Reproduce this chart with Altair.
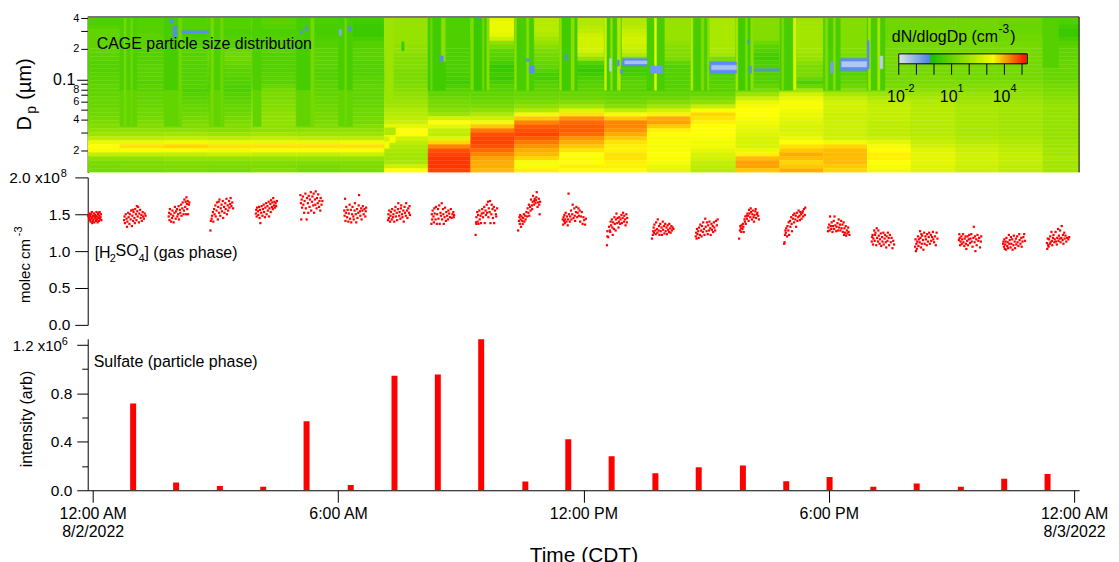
import altair as alt
import numpy as np
import pandas as pd

FONT = "Liberation Sans"

# ---- size-distribution panel: one column per scan, log10(dN/dlogDp) x 10, top row first
SCAN_EDGES = [0, 0.78, 1.85, 2.91, 3.97, 5.05, 6.11, 7.18, 8.24, 9.27, 10.33, 11.42, 12.51,
              13.54, 14.60, 15.69, 16.75, 17.81, 18.87, 19.93, 21.0, 22.06, 23.12, 24]
SCAN_LEVELS = [
    [7,7,8,10,10,10,10,10,10,9,9,8,8,8,9,9,9,10,10,10,11,11,11,12,12,13,14,15,17,19,24,31,34,33,25,17,14,13,13],
    [8,8,8,8,9,9,9,9,8,8,8,8,9,9,9,9,8,9,9,10,10,11,11,12,12,13,14,15,17,19,24,31,36,33,25,17,14,14,13],
    [8,8,8,7,6,7,8,9,9,8,9,8,8,8,8,8,8,8,7,8,9,10,11,11,12,13,14,15,17,20,25,32,37,33,25,18,15,14,14],
    [8,8,8,7,7,8,8,9,11,12,12,11,10,9,9,8,8,7,7,8,9,10,11,11,12,13,14,15,16,19,24,31,36,32,26,18,15,14,13],
    [9,9,8,7,7,8,8,9,9,8,8,8,8,8,9,9,9,11,13,14,14,15,15,16,17,17,17,17,17,20,25,31,36,33,25,18,15,14,15],
    [7,7,6,6,6,7,8,8,9,9,9,9,9,8,8,8,9,9,10,10,11,11,12,12,13,13,14,15,17,19,24,31,36,33,25,18,15,13,13],
    [6,5,4,4,4,6,8,8,9,9,9,8,8,8,8,9,9,10,10,10,10,11,11,12,12,13,13,15,17,19,24,32,36,33,26,18,15,14,14],
    [18,18,18,18,18,18,18,17,17,16,15,15,15,14,14,14,14,15,16,17,18,19,20,22,23,24,26,30,34,34,27,24,22,21,20,20,21,26,34],
    [7,7,7,7,7,7,7,7,7,7,7,7,7,7,6,6,5,7,9,10,12,13,14,16,19,27,34,30,25,24,29,37,43,47,48,49,49,49,48],
    [30,31,31,31,30,26,17,14,10,9,8,6,3,4,5,4,6,8,9,10,11,12,14,17,22,26,32,38,44,47,48,48,47,45,43,41,40,40,39],
    [23,23,23,23,22,20,18,16,14,13,12,11,10,8,6,6,8,9,10,11,12,14,17,22,32,38,43,46,47,48,46,44,42,40,39,37,33,33,35],
    [22,22,23,24,26,27,27,27,27,24,18,8,5,3,5,7,8,9,10,11,12,15,20,29,36,42,45,46,46,45,42,40,38,36,34,33,34,35,34],
    [22,22,23,25,26,27,27,26,25,22,14,8,5,5,6,8,9,9,9,10,11,13,16,24,33,38,43,43,42,40,38,36,35,35,36,36,35,35,34],
    [18,18,18,18,18,18,17,16,15,15,14,10,8,8,8,8,8,8,9,10,12,15,20,27,35,40,41,38,35,34,33,33,33,33,34,33,33,31,30],
    [21,21,21,21,21,21,21,21,21,20,14,10,6,6,7,8,8,9,9,11,14,17,25,33,37,36,35,34,34,34,33,32,32,30,28,27,25,24,23],
    [15,15,15,15,15,15,12,9,8,6,5,7,7,6,8,8,8,10,14,19,26,31,33,34,34,33,32,31,30,29,28,28,28,31,35,39,41,41,38],
    [19,20,20,20,20,20,20,20,20,19,18,16,14,14,14,11,7,11,20,27,31,33,33,32,31,30,29,28,28,29,31,34,36,38,40,39,37,38,40],
    [15,15,15,15,15,15,15,15,15,14,12,10,8,8,9,10,10,12,16,21,25,27,27,27,26,26,26,26,26,26,27,32,37,39,39,39,39,38,37],
    [12,12,12,12,12,12,13,13,13,13,13,13,13,13,13,13,13,14,16,19,22,24,25,25,25,25,24,24,24,24,26,30,33,34,35,35,34,33,32],
    [12,12,12,13,13,13,13,13,13,13,13,13,13,13,13,14,14,15,17,19,21,22,23,23,23,23,23,23,23,23,24,25,27,29,30,30,30,29,29],
    [12,12,12,12,13,13,13,13,13,13,13,13,13,13,13,13,14,15,16,18,19,20,21,21,21,21,21,21,21,21,22,23,25,26,27,27,27,26,26],
    [12,11,11,11,12,12,13,13,13,13,13,13,13,13,13,13,14,15,16,17,18,19,20,20,20,20,20,20,20,20,21,22,23,24,25,25,25,24,24],
    [8,7,5,4,4,6,8,9,10,10,10,11,11,11,11,11,12,13,14,15,16,17,18,18,18,18,18,18,18,18,18,19,19,20,20,21,20,20,20],
]
DP_TOP, DP_BOTTOM = 0.41, 0.0122

# narrow stripes at the start of each scan: start h, end h, Dp top, Dp bottom, level x 10
SCAN_STRIPES = [
    (0.78,1.19,.41,.078,7),(0.78,1.19,.078,.0345,10),(0.88,0.93,.41,.0345,13),(1.04,1.09,.41,.0345,12),
    (1.85,2.25,.41,.078,6),(1.85,2.25,.078,.0345,10),(2.20,2.28,.41,.0345,12),
    (2.95,3.30,.41,.078,7),(2.95,3.30,.078,.0345,10),(2.98,3.05,.41,.0345,13),(3.22,3.28,.41,.0345,12),
    (4.00,4.20,.41,.078,7),(4.00,4.20,.078,.0345,10),
    (5.05,5.45,.41,.078,6),(5.05,5.45,.078,.0345,10),(5.40,5.48,.41,.0345,13),
    (6.07,6.41,.41,.078,6),(6.07,6.41,.078,.0345,10),(6.22,6.27,.41,.0345,12),
    (7.20,7.40,.41,.06,19),(7.60,7.66,.234,.191,4),
    (7.18,7.45,.0335,.0285,22),(7.18,7.30,.0246,.021,33),(7.30,7.45,.0275,.024,33),
    (8.24,8.66,.41,.078,5),(8.30,8.34,.41,.078,12),(8.56,8.66,.41,.15,16),
    (9.27,9.70,.41,.078,4),(9.27,9.34,.41,.078,14),(9.55,9.60,.41,.078,12),(9.66,9.72,.41,.078,16),
    (10.33,10.80,.41,.078,6),(10.33,10.38,.41,.078,16),(10.62,10.68,.41,.078,15),
    (11.42,11.85,.41,.078,5),(11.42,11.47,.41,.078,17),(11.70,11.78,.41,.078,16),
    (12.51,12.92,.41,.078,5),(12.51,12.56,.41,.078,26),(12.66,12.70,.41,.078,18),(12.82,12.90,.41,.078,22),
    (13.54,13.96,.41,.078,6),(13.72,13.77,.41,.078,30),
    (14.60,15.04,.41,.078,6),(14.60,14.65,.41,.078,22),(14.85,14.92,.41,.078,14),(15.00,15.04,.41,.078,16),
    (15.69,16.10,.41,.078,5),(15.69,15.74,.41,.078,20),(15.92,15.97,.41,.078,14),(16.05,16.12,.41,.078,16),
    (16.75,17.15,.41,.078,6),(16.80,16.85,.41,.078,14),(17.08,17.15,.41,.078,28),
    (17.81,18.22,.41,.078,6),(17.85,17.92,.41,.078,14),(18.05,18.10,.41,.078,16),
    (18.87,19.30,.41,.078,6),(18.90,18.95,.41,.078,20),(19.12,19.18,.41,.078,20),
    (23.12,23.50,.41,.13,8),
]
# low-count cells: start h, end h, Dp top, Dp bottom, level x 10
LOW_CELLS = [
    (1.99,2.07,.39,.355,-4),(2.07,2.16,.335,.26,-4),(2.28,2.93,.30,.285,-4),
    (5.15,5.20,.30,.28,-4),(5.27,5.32,.33,.30,-4),(6.09,6.14,.31,.27,-9),(6.31,6.38,.33,.30,-4),
    (9.46,9.51,.41,.39,-4),(8.53,8.61,.17,.15,-4),(10.62,10.69,.16,.15,-4),(10.69,10.81,.135,.115,-4),
    (11.56,11.61,.175,.155,-4),(12.63,12.68,.16,.12,-15),(12.82,12.87,.155,.135,-4),(12.89,12.95,.125,.115,-4),
    (12.95,13.54,.16,.135,-4),(13.00,13.54,.152,.142,-13),(13.62,13.91,.135,.115,-6),
    (15.06,15.71,.148,.115,-4),(15.10,15.71,.138,.124,-13),(15.97,16.02,.24,.225,-4),(16.02,16.07,.135,.115,-4),
    (16.13,16.75,.127,.122,-4),(17.98,18.05,.148,.115,-7),(18.22,18.87,.16,.122,-4),(18.25,18.87,.15,.132,-14),
    (18.87,18.92,.24,.127,-4),(19.18,19.25,.17,.127,-15),
]
COLOR_STOPS = [-2, -0.2, -0.19, 3.4, 5.3]
COLOR_RANGE = ["#e6e8f2", "#4a80f5", "#14c000", "#ffff00", "#ff0000"]
BAR_TICKS = [-2, -1, 0, 1, 2, 3, 4, 5]
BAR_LABELS = [-2, 1, 4]

# ---- H2SO4 panel: centre hour of each cluster, then (offset h x 100, value x 1e6)
H2SO4_CENTRES = [0.17,1.14,2.21,3.27,4.33,5.42,6.48,7.54,8.60,9.66,10.72,11.78,12.84,13.93,14.99,16.05,17.14,18.2,19.26,20.32,21.38,22.44,23.5]
H2SO4_POINTS = [
 [(-16,148),(-14,145),(-13,151),(-12,142),(-11,147),(-10,140),(-9,150),(-8,144),(-7,153),(-6,146),(-5,141),(-4,148),(-3,143),(-2,151),(-1,139),(0,146),(1,149),(2,144),(3,141),(4,153),(5,147),(6,143),(7,139),(8,150),(9,145),(10,141),(11,148),(12,153),(13,144),(14,146),(15,150),(16,142),(-6,138),(9,152),(-12,149),(3,147)],
 [(-26,142),(-25,147),(-24,138),(-22,150),(-20,144),(-19,133),(-18,140),(-16,152),(-15,146),(-13,137),(-12,150),(-10,143),(-9,155),(-7,134),(-6,148),(-4,141),(-3,153),(-1,145),(0,138),(1,157),(3,150),(4,142),(6,154),(7,147),(8,160),(10,139),(11,151),(13,156),(14,145),(16,149),(17,141),(19,153),(20,147),(22,144),(24,151),(26,148),(5,161),(-5,156)],
 [(-25,147),(-24,152),(-23,142),(-22,157),(-20,150),(-19,140),(-17,145),(-16,155),(-14,148),(-13,139),(-11,152),(-10,160),(-8,144),(-7,154),(-5,157),(-4,147),(-2,150),(-1,161),(0,143),(2,156),(3,152),(5,163),(6,148),(8,158),(9,166),(11,150),(12,155),(13,170),(15,160),(16,167),(17,150),(18,173),(19,164),(20,157),(21,168),(22,150),(24,163),(25,166)],
 [(-30,128),(-29,141),(-27,144),(-26,148),(-24,153),(-23,140),(-21,157),(-20,150),(-18,162),(-17,147),(-15,155),(-14,166),(-12,143),(-11,160),(-9,152),(-8,170),(-6,148),(-5,158),(-3,163),(-2,154),(0,168),(1,145),(3,160),(4,152),(6,165),(7,157),(9,171),(10,150),(12,162),(13,155),(15,168),(16,159),(18,164),(19,172),(21,161),(23,166),(25,158),(-10,167)],
 [(-26,151),(-25,156),(-24,147),(-23,159),(-21,154),(-20,149),(-18,160),(-17,145),(-16,156),(-15,138),(-13,152),(-12,161),(-10,148),(-9,157),(-7,163),(-6,153),(-4,146),(-3,159),(-1,165),(0,150),(2,161),(3,155),(5,167),(6,147),(7,158),(9,164),(10,153),(11,169),(13,160),(14,166),(15,157),(16,172),(18,162),(19,167),(20,159),(22,165),(23,161),(25,168)],
 [(-27,176),(-26,165),(-25,143),(-24,170),(-23,159),(-21,174),(-20,163),(-18,152),(-17,168),(-15,178),(-14,158),(-12,143),(-11,172),(-9,165),(-8,152),(-7,175),(-5,160),(-4,170),(-2,180),(-1,155),(1,167),(2,174),(4,162),(5,178),(6,152),(8,170),(9,163),(10,181),(12,158),(13,172),(15,165),(16,177),(18,160),(19,168),(21,155),(22,172),(24,163),(26,168)],
 [(-27,155),(-26,148),(-25,171),(-24,141),(-23,152),(-22,160),(-20,146),(-19,156),(-17,140),(-16,151),(-14,163),(-13,144),(-11,156),(-10,139),(-8,150),(-7,160),(-5,147),(-4,143),(-2,155),(-1,165),(1,150),(2,139),(4,157),(5,145),(7,152),(8,162),(9,176),(11,154),(12,148),(14,158),(15,143),(17,155),(18,161),(20,150),(22,157),(24,147),(25,154),(26,159)],
 [(-27,142),(-26,150),(-25,145),(-24,155),(-22,140),(-21,148),(-20,153),(-18,143),(-17,157),(-15,146),(-14,150),(-12,140),(-11,155),(-9,160),(-8,147),(-6,152),(-5,142),(-3,157),(-2,165),(0,148),(1,153),(3,144),(4,158),(5,162),(7,150),(8,146),(10,155),(11,140),(13,160),(14,152),(16,148),(17,165),(19,155),(20,145),(22,158),(24,152),(25,161),(26,149)],
 [(-28,137),(-27,150),(-26,143),(-25,155),(-23,147),(-22,139),(-21,158),(-20,151),(-18,143),(-17,160),(-15,137),(-14,150),(-12,157),(-11,144),(-9,162),(-8,137),(-6,152),(-5,148),(-3,165),(-2,143),(0,157),(1,150),(2,137),(4,146),(5,159),(7,141),(8,153),(10,148),(12,143),(13,155),(15,151),(17,146),(19,157),(21,145),(23,150),(25,153),(26,146),(27,149)],
 [(-27,122),(-26,139),(-25,137),(-25,146),(-23,153),(-22,140),(-21,149),(-20,137),(-18,155),(-17,143),(-15,148),(-14,138),(-12,151),(-11,157),(-9,146),(-8,152),(-6,160),(-5,138),(-3,155),(-2,149),(0,163),(1,152),(3,167),(4,146),(5,158),(7,153),(8,168),(9,138),(11,150),(12,163),(14,157),(15,145),(17,160),(18,138),(20,155),(22,150),(23,147),(25,158)],
 [(-30,128),(-28,141),(-27,146),(-26,137),(-25,149),(-24,143),(-23,133),(-22,147),(-20,141),(-19,137),(-18,145),(-16,150),(-15,140),(-13,148),(-12,143),(-10,153),(-8,147),(-7,158),(-5,152),(-4,163),(-3,148),(-1,160),(0,155),(1,170),(3,162),(4,157),(5,167),(6,175),(8,163),(9,168),(10,171),(12,165),(13,169),(14,173),(15,180),(17,160),(18,166),(20,171),(21,163),(22,150),(23,167)],
 [(-28,143),(-27,136),(-26,146),(-25,141),(-24,149),(-23,138),(-22,143),(-21,152),(-19,140),(-18,147),(-16,135),(-15,143),(-14,178),(-13,150),(-11,140),(-10,147),(-8,155),(-7,143),(-5,150),(-4,163),(-2,145),(0,158),(1,148),(2,141),(4,153),(5,160),(7,146),(8,152),(10,158),(11,148),(13,155),(14,140),(16,147),(18,153),(20,137),(22,146),(24,142),(26,136),(28,144)],
 [(-27,108),(-26,120),(-26,127),(-24,119),(-22,133),(-20,128),(-19,126),(-18,140),(-17,135),(-15,143),(-14,132),(-13,122),(-12,139),(-10,130),(-9,146),(-8,137),(-6,128),(-5,143),(-4,151),(-2,138),(-1,145),(1,132),(2,140),(3,146),(5,137),(6,143),(8,149),(9,138),(11,145),(12,152),(14,140),(15,148),(17,143),(18,135),(20,150),(21,139),(22,145)],
 [(-27,117),(-25,122),(-24,127),(-23,132),(-22,125),(-21,136),(-19,128),(-18,123),(-17,139),(-15,130),(-14,125),(-13,143),(-11,128),(-10,134),(-9,122),(-7,137),(-6,127),(-4,132),(-3,122),(-1,140),(0,129),(2,134),(3,124),(5,137),(6,127),(8,132),(9,123),(11,135),(12,129),(14,126),(15,137),(17,131),(18,125),(20,134),(21,128),(23,132),(25,130)],
 [(-27,120),(-26,125),(-25,117),(-24,130),(-23,123),(-21,127),(-20,118),(-19,132),(-17,122),(-16,136),(-14,128),(-13,120),(-12,134),(-10,126),(-9,139),(-7,130),(-6,122),(-4,144),(-3,133),(-1,127),(0,139),(2,123),(3,135),(5,128),(6,140),(8,131),(9,122),(11,137),(12,129),(14,134),(15,126),(17,139),(18,132),(20,128),(22,141),(24,135),(26,143)],
 [(-28,117),(-26,128),(-25,134),(-24,131),(-23,126),(-22,135),(-20,130),(-19,137),(-18,133),(-17,126),(-15,143),(-14,140),(-13,147),(-12,137),(-10,148),(-9,144),(-8,151),(-6,148),(-5,141),(-4,156),(-3,151),(-1,146),(0,158),(1,153),(3,143),(4,150),(5,155),(7,146),(8,140),(9,149),(11,154),(12,157),(13,145),(15,150),(16,152),(18,148),(20,143)],
 [(-28,110),(-27,112),(-26,122),(-25,128),(-24,125),(-23,131),(-21,120),(-20,134),(-18,128),(-17,139),(-16,122),(-14,141),(-13,133),(-11,146),(-10,137),(-9,127),(-7,144),(-6,149),(-4,139),(-3,151),(-1,143),(0,148),(1,133),(3,152),(4,141),(6,146),(7,155),(9,148),(10,142),(11,153),(13,150),(14,144),(16,152),(17,154),(18,147),(20,157),(22,149),(23,159)],
 [(-28,127),(-27,132),(-25,136),(-24,128),(-23,147),(-21,134),(-20,130),(-19,139),(-17,126),(-16,134),(-14,141),(-13,130),(-12,147),(-10,135),(-8,127),(-7,133),(-5,138),(-4,128),(-2,143),(-1,132),(1,136),(2,128),(4,141),(5,131),(7,136),(8,126),(10,139),(11,122),(12,131),(13,125),(15,134),(16,121),(18,128),(19,124),(21,132),(22,126),(24,122)],
 [(-28,113),(-27,119),(-26,122),(-25,109),(-24,117),(-22,128),(-21,114),(-20,122),(-19,125),(-17,108),(-16,131),(-15,118),(-13,113),(-12,128),(-11,121),(-9,110),(-8,116),(-6,124),(-5,107),(-3,119),(-2,113),(0,125),(1,109),(3,117),(4,122),(6,112),(7,105),(8,120),(10,114),(11,125),(13,118),(14,108),(16,122),(18,112),(20,118),(22,104),(24,114),(26,109)],
 [(-29,106),(-28,116),(-27,100),(-26,110),(-25,103),(-24,113),(-22,120),(-21,107),(-20,116),(-18,112),(-17,127),(-16,118),(-15,105),(-14,123),(-13,110),(-12,121),(-10,115),(-9,102),(-7,125),(-6,110),(-4,120),(-3,116),(-1,108),(0,123),(2,113),(4,119),(5,125),(7,110),(9,122),(10,114),(12,119),(14,126),(15,116),(17,112),(19,120),(21,108),(23,125),(25,117)],
 [(-29,115),(-28,123),(-27,118),(-26,108),(-25,113),(-23,120),(-22,110),(-21,116),(-19,123),(-18,112),(-16,107),(-15,117),(-13,120),(-12,110),(-11,103),(-9,114),(-8,120),(-7,108),(-5,116),(-4,122),(-2,111),(-1,117),(1,123),(2,113),(4,106),(6,118),(7,133),(9,112),(10,120),(11,100),(13,116),(14,108),(16,122),(18,114),(20,118),(22,105),(24,113),(25,120)],
 [(-28,110),(-27,113),(-26,106),(-25,116),(-24,103),(-23,109),(-22,113),(-21,102),(-20,118),(-18,107),(-17,112),(-16,104),(-14,122),(-13,110),(-12,115),(-10,105),(-9,119),(-8,110),(-6,116),(-5,102),(-3,108),(-2,121),(0,113),(1,104),(3,117),(4,109),(6,120),(7,112),(9,107),(11,123),(12,115),(14,110),(16,118),(17,106),(19,113),(21,119),(23,123),(25,114)],
 [(-28,111),(-27,103),(-26,117),(-25,108),(-24,106),(-23,116),(-21,110),(-20,120),(-19,112),(-17,126),(-16,114),(-15,108),(-13,118),(-12,122),(-10,112),(-9,116),(-7,126),(-6,113),(-4,109),(-3,118),(-1,130),(0,114),(1,121),(3,117),(4,128),(5,112),(7,118),(8,134),(10,115),(11,122),(12,110),(14,125),(15,117),(17,121),(19,113),(21,118),(24,116),(26,119)],
]

# ---- sulfate panel
SULFATE_TIME = [0.989,2.04,3.11,4.17,5.23,6.31,7.38,8.44,9.50,10.58,11.63,12.69,13.76,14.82,15.90,16.96,18.02,19.09,20.15,21.23,22.29,23.35]
SULFATE_VALUE = [0.715,0.065,0.035,0.028,0.57,0.043,0.945,0.955,1.245,0.072,0.42,0.28,0.14,0.19,0.205,0.075,0.11,0.03,0.055,0.03,0.095,0.135]
SULFATE_MAX = 1.249

TIME_TICKS = [0, 6, 12, 18, 24]
DP_TICKS = [0.4, 0.3, 0.2, 0.1, 0.09, 0.08, 0.07, 0.06, 0.05, 0.04, 0.03, 0.02]

W, H1, H2, H3 = 995, 156, 148, 152
GAP1, GAP2 = 5, 14
LEFT = 86

# ---- frames
edges = np.geomspace(DP_TOP, DP_BOTTOM, len(SCAN_LEVELS[0]) + 1)
heat_df = pd.DataFrame(
    [{"t0": SCAN_EDGES[c], "t1": SCAN_EDGES[c + 1], "d0": edges[r], "d1": edges[r + 1], "lv": v / 10}
     for c, col in enumerate(SCAN_LEVELS) for r, v in enumerate(col)])
stripe_df = pd.DataFrame(SCAN_STRIPES, columns=["t0", "t1", "d0", "d1", "lv"]).assign(lv=lambda d: d.lv / 10)
low_df = pd.DataFrame(LOW_CELLS, columns=["t0", "t1", "d0", "d1", "lv"]).assign(lv=lambda d: d.lv / 10)
h2so4_df = pd.DataFrame(
    [{"t": c + dt / 100, "v": v / 100} for c, pts in zip(H2SO4_CENTRES, H2SO4_POINTS) for dt, v in pts])
sulfate_df = pd.DataFrame({"t": SULFATE_TIME, "v": SULFATE_VALUE})

x_scale = alt.Scale(domain=[0, 24], nice=False, zero=False)
dp_scale = alt.Scale(type="log", domain=[DP_BOTTOM, DP_TOP], nice=False)
color_scale = alt.Scale(domain=COLOR_STOPS, range=COLOR_RANGE, clamp=True, interpolate="rgb")
bar_x = alt.Scale(domain=[-2, 5.3], range=[900 - LEFT, 1029 - LEFT], nice=False, zero=False)


def label(text, px, py, size=16, align="left", angle=0, baseline="alphabetic", panel_top=16):
    """Text placed in page pixel terms, relative to its panel."""
    return alt.Chart(pd.DataFrame({"s": [text]})).mark_text(
        font=FONT, fontSize=size, align=align, baseline=baseline, angle=angle, color="#000000"
    ).encode(x=alt.value(px - LEFT), y=alt.value(py - panel_top), text="s:N")


def cells(df, axis_y=None):
    y = alt.Y("d0:Q", scale=dp_scale, title=None, axis=axis_y)
    return alt.Chart(df).mark_rect(strokeWidth=0.4, clip=True).encode(
        x=alt.X("t0:Q", scale=x_scale, axis=None), x2="t1:Q", y=y, y2="d1:Q",
        color=alt.Color("lv:Q", scale=color_scale, legend=None),
        stroke=alt.Stroke("lv:Q", scale=color_scale, legend=None),
    )


dp_axis = alt.Axis(
    values=DP_TICKS,
    labelExpr="datum.value==0.1?'0.1':datum.value==0.4||datum.value==0.04?'4':datum.value==0.2||datum.value==0.02?'2':datum.value==0.08?'8':datum.value==0.06?'6':''",
    labelFontSize={"condition": {"test": "datum.value==0.1", "value": 16}, "value": 11},
    tickSize={"condition": {"test": "datum.value==0.1", "value": 11}, "value": 7},
    labelPadding=2, labelOverlap=False, labelBound=False, grid=False,
)
heat = cells(heat_df, dp_axis)
stripes = cells(stripe_df)
lows = cells(low_df)

top_edge = alt.Chart(pd.DataFrame({"d": [DP_TOP]})).mark_rule(color="#777777", strokeWidth=2).encode(
    y=alt.Y("d:Q", scale=dp_scale, axis=None), x=alt.value(0), x2=alt.value(W))
right_edge = alt.Chart(pd.DataFrame({"t": [24]})).mark_rule(color="#000000", strokeWidth=1).encode(
    x=alt.X("t:Q", scale=x_scale, axis=None), y=alt.value(0), y2=alt.value(H1))

bar_edges = [round(-2 + i * 0.05, 2) for i in range(146)]
bar_df = pd.DataFrame({"a": bar_edges[:-1], "b": bar_edges[1:]})
bar_strip = alt.Chart(bar_df).mark_rect(strokeWidth=0.4).encode(
    x=alt.X("a:Q", scale=bar_x, axis=None), x2="b:Q", y=alt.value(53 - 16), y2=alt.value(63 - 16),
    color=alt.Color("b:Q", scale=color_scale, legend=None),
    stroke=alt.Stroke("b:Q", scale=color_scale, legend=None))
bar_box = alt.Chart(pd.DataFrame({"a": [-2], "b": [5.3]})).mark_rect(
    fillOpacity=0, stroke="#000000", strokeWidth=1).encode(
    x=alt.X("a:Q", scale=bar_x, axis=None), x2="b:Q", y=alt.value(53 - 16), y2=alt.value(63 - 16))
bar_tick = alt.Chart(pd.DataFrame({"a": BAR_TICKS})).mark_rule(color="#000000").encode(
    x=alt.X("a:Q", scale=bar_x, axis=None), y=alt.value(63 - 16), y2=alt.value(74 - 16))
bar_lab = alt.Chart(pd.DataFrame({"a": BAR_LABELS, "s": ["10"] * 3})).mark_text(
    font=FONT, fontSize=16, align="right", dx=6).encode(
    x=alt.X("a:Q", scale=bar_x, axis=None), y=alt.value(96 - 16), text="s:N")
bar_sup = alt.Chart(pd.DataFrame({"a": BAR_LABELS, "s": ["-2", "1", "4"]})).mark_text(
    font=FONT, fontSize=11, align="left", dx=6).encode(
    x=alt.X("a:Q", scale=bar_x, axis=None), y=alt.value(88 - 16), text="s:N")

panel1 = alt.layer(
    heat, stripes, lows, top_edge, right_edge,
    bar_strip, bar_box, bar_tick, bar_lab, bar_sup,
    label("CAGE particle size distribution", 95, 48),
    label("dN/dlogDp (cm", 893, 41),
    label("-3", 1000, 32, size=12),
    label(")", 1012, 41),
    label("D", 29, 130, size=20, angle=270),
    label("p", 34, 113, size=14, angle=270),
    label("(µm)", 29, 99, size=20, angle=270),
).resolve_scale(x="independent", y="independent").properties(width=W, height=H1)

# ---- H2SO4
P2_TOP = 16 + H1 + GAP1
dots = alt.Chart(h2so4_df).mark_square(size=5, color="#ff0000", opacity=1).encode(
    x=alt.X("t:Q", scale=x_scale, axis=None),
    y=alt.Y("v:Q", scale=alt.Scale(domain=[0, 2], nice=False), title=None,
            axis=alt.Axis(values=[0, 0.5, 1, 1.5, 2],
                          labelExpr="datum.value==2?'':format(datum.value,'.1f')",
                          tickSize=13, labelPadding=5, grid=False, labelFontSize=15.5)))
panel2 = alt.layer(
    dots,
    label("2.0 x10", 58, 183, size=15.5, align="right", panel_top=P2_TOP),
    label("8", 59, 177, size=11, panel_top=P2_TOP),
    label("molec cm", 28, 303, size=15, angle=270, panel_top=P2_TOP),
    label("-3", 20, 236, size=11, angle=270, panel_top=P2_TOP),
    label("[H", 93, 258, panel_top=P2_TOP),
    label("2", 108, 262, size=11, panel_top=P2_TOP),
    label("SO", 114, 256, panel_top=P2_TOP),
    label("4", 137, 262, size=11, panel_top=P2_TOP),
    label("] (gas phase)", 143, 258, panel_top=P2_TOP),
).resolve_scale(x="independent", y="independent").properties(width=W, height=H2)

# ---- sulfate
P3_TOP = P2_TOP + H2 + GAP2
time_expr = ("datum.value==0?['12:00 AM','8/2/2022']:datum.value==6?'6:00 AM':datum.value==12?'12:00 PM':"
             "datum.value==18?'6:00 PM':['12:00 AM','8/3/2022']")
bars = alt.Chart(sulfate_df).mark_bar(size=6, color="#ff0000", clip=True).encode(
    x=alt.X("t:Q", scale=x_scale, title="Time (CDT)",
            axis=alt.Axis(values=TIME_TICKS, labelExpr=time_expr, tickSize=12, labelPadding=3,
                          labelOverlap=False, labelBound=False, labelFlush=False, grid=False,
                          labelLineHeight=18, labelFontSize=16,
                          titleFontSize=21, titleFontWeight="normal", titlePadding=5)),
    y=alt.Y("v:Q", scale=alt.Scale(domain=[0, SULFATE_MAX], nice=False), title=None,
            axis=alt.Axis(values=[0, 0.2, 0.4, 0.6, 0.8, 1.0, 1.2],
                          labelExpr="datum.value==1.2||datum.value==0.2||datum.value==0.6||datum.value==1?'':format(datum.value,'.1f')",
                          tickSize={"condition": {"test": "datum.value==0.2||datum.value==0.6||datum.value==1", "value": 6},
                                    "value": 11},
                          labelPadding=5, labelOverlap=False, grid=False, labelFontSize=15.5)))
panel3 = alt.layer(
    bars,
    label("1.2 x10", 60, 351, size=15, align="right", panel_top=P3_TOP),
    label("6", 60, 345, size=11, panel_top=P3_TOP),
    label("intensity (arb)", 30, 468, size=16, angle=270, panel_top=P3_TOP),
    label("Sulfate (particle phase)", 92, 367, panel_top=P3_TOP),
).properties(width=W, height=H3)

# an empty row keeps the second gap wider than the first under one spacing value
spacer = alt.Chart(pd.DataFrame({"t": [0]})).mark_point(opacity=0).encode(
    x=alt.X("t:Q", scale=x_scale, axis=None)).properties(width=W, height=GAP2 - 2 * GAP1)

chart = alt.VConcatChart(
    vconcat=[panel1, panel2, spacer, panel3],
    spacing=GAP1, bounds="flush",
    padding={"left": 1, "top": 3, "right": 2, "bottom": 2},
).configure_view(stroke=None).configure_axis(
    labelFont=FONT, titleFont=FONT, labelColor="#000000", titleColor="#000000",
    domainColor="#000000", tickColor="#000000", domainWidth=1, tickWidth=1,
)
chart.save("out.html", embed_options={"renderer": "svg", "actions": False})
